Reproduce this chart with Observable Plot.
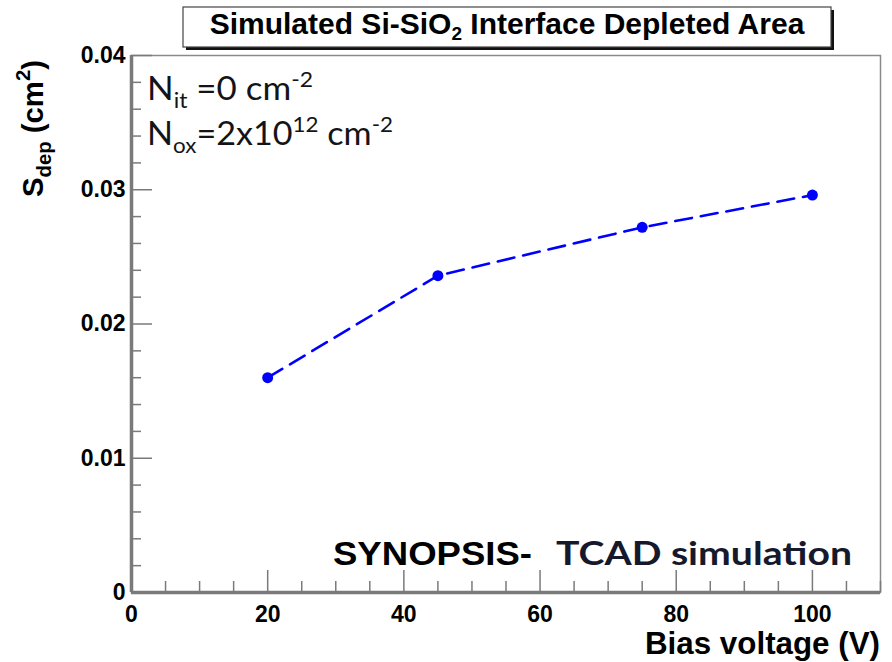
<!DOCTYPE html>
<html><head><meta charset="utf-8">
<script src="https://cdn.jsdelivr.net/npm/d3@7"></script>
<script src="https://cdn.jsdelivr.net/npm/@observablehq/plot@0.6"></script>
<style>
body{margin:0;background:#fff;}
#chart{position:relative;width:892px;height:662px;}
</style>
</head><body><div id="chart"></div>
<script>
// Data
const voltage = [20, 45, 75, 100];
const sdep = [0.0160, 0.0236, 0.0272, 0.0296];

// Axis ticks
const xTicks = [0, 20, 40, 60, 80, 100];
const xMinorTicks = [5, 10, 15, 25, 30, 35, 45, 50, 55, 65, 70, 75, 85, 90, 95, 105, 110];
const yTicks = [0, 0.01, 0.02, 0.03, 0.04];
const yMinorTicks = [0.002, 0.004, 0.006, 0.008, 0.012, 0.014, 0.016, 0.018,
  0.022, 0.024, 0.026, 0.028, 0.032, 0.034, 0.036, 0.038];

const data = voltage.map((v, i) => ({v, s: sdep[i]}));

const W = 892, H = 662, mL = 131, mR = 12, mT = 55, mB = 70;
const frameW = W - mL - mR, frameH = H - mT - mB;
const axisGray = "#7a7a7a";

const svg = Plot.plot({
  width: W, height: H,
  marginLeft: mL, marginRight: mR, marginTop: mT, marginBottom: mB,
  style: {fontFamily: "'Liberation Sans', Arial, sans-serif", fontSize: "23px", fontWeight: "bold", color: "black", background: "white"},
  x: {domain: [0, 110]},
  y: {domain: [0, 0.04]},
  marks: [
    Plot.frame({stroke: "#8a8a8a", strokeWidth: 1.5}),
    Plot.tickX(xMinorTicks, {x: d => d, stroke: axisGray, strokeWidth: 1.5, insetTop: frameH - 11}),
    Plot.tickX(xTicks, {x: d => d, stroke: axisGray, strokeWidth: 1.5, insetTop: frameH - 22}),
    Plot.tickY(yMinorTicks, {y: d => d, stroke: axisGray, strokeWidth: 1.5, insetRight: frameW - 10}),
    Plot.tickY(yTicks, {y: d => d, stroke: axisGray, strokeWidth: 1.5, insetRight: frameW - 21}),
    Plot.ruleX([0], {stroke: axisGray, strokeWidth: 3.5}),
    Plot.ruleY([0], {stroke: axisGray, strokeWidth: 3.5}),
    Plot.axisX(xTicks, {tickSize: 0, tickPadding: 13, label: null, tickFormat: d => String(d)}),
    Plot.axisY(yTicks, {tickSize: 0, tickPadding: 6, label: null, tickFormat: d => String(d)}),
    Plot.line(data, {x: "v", y: "s", stroke: "#0000ff", strokeWidth: 2.6, strokeDasharray: "17,9"}),
    Plot.dot(data, {x: "v", y: "s", r: 5.5, fill: "#0000ff", stroke: "none"})
  ]
});
document.getElementById("chart").appendChild(svg);

// Rich text helper (sub/superscripts) appended to the plot's SVG
const root = d3.select(svg).append("g").attr("class", "annotations");
function rich(parts, opts) {
  const t = root.append("text")
    .attr("x", opts.x).attr("y", opts.y)
    .attr("text-anchor", opts.anchor || "start")
    .attr("font-family", opts.family)
    .attr("font-weight", opts.weight || "normal")
    .attr("font-size", opts.size)
    .attr("fill", opts.fill || "black");
  if (opts.transform) t.attr("transform", opts.transform);
  if (opts.length) t.attr("textLength", opts.length).attr("lengthAdjust", "spacingAndGlyphs");
  let cur = 0;
  for (const p of parts) {
    const shift = p.shift || 0;
    const ts = t.append("tspan").text(p.t).attr("dy", shift - cur);
    if (p.size) ts.attr("font-size", p.size);
    cur = shift;
  }
  return t;
}

// Title box
root.append("rect").attr("x", 186).attr("y", 10).attr("width", 648).attr("height", 40).attr("fill", "#111");
root.append("rect").attr("x", 183).attr("y", 7).attr("width", 648).attr("height", 40).attr("fill", "white").attr("stroke", "#444").attr("stroke-width", 1.2);
rich([{t: "Simulated Si-SiO"}, {t: "2", size: 19, shift: 6}, {t: " Interface Depleted Area", shift: 0}],
  {x: 507, y: 34, anchor: "middle", family: "'Liberation Sans', Arial, sans-serif", weight: "bold", size: 30});

// Y axis title
rich([{t: "S"}, {t: "dep", size: 20, shift: 8}, {t: " (cm", shift: 0}, {t: "2", size: 20, shift: -13}, {t: ")", shift: 0}],
  {x: 0, y: 0, transform: "translate(43,197) rotate(-90)", family: "'Liberation Sans', Arial, sans-serif", weight: "bold", size: 29, length: 137});

// X axis title
rich([{t: "Bias voltage (V)"}],
  {x: 880, y: 654, anchor: "end", family: "'Liberation Sans', Arial, sans-serif", weight: "bold", size: 31, length: 235});

// Annotations
rich([{t: "N"}, {t: "it", size: 21, shift: 8}, {t: " =0 cm", shift: 0}, {t: "-2", size: 21, shift: -13}],
  {x: 147, y: 100, family: "Lato, 'Open Sans', sans-serif", size: 32, fill: "#141418", length: 166});
rich([{t: "N"}, {t: "ox", size: 21, shift: 8}, {t: "=2x10", shift: 0}, {t: "12", size: 21, shift: -13}, {t: " cm", shift: 0}, {t: "-2", size: 21, shift: -13}],
  {x: 147, y: 145, family: "Lato, 'Open Sans', sans-serif", size: 32, fill: "#141418", length: 246});

rich([{t: "SYNOPSIS-"}],
  {x: 333, y: 565, family: "'Liberation Sans', Arial, sans-serif", weight: "bold", size: 33, length: 199});
rich([{t: "TCAD simulation"}],
  {x: 556, y: 565, family: "Lato, 'Open Sans', sans-serif", weight: "bold", size: 33, fill: "#15192b", length: 296});
</script>
</body></html>
